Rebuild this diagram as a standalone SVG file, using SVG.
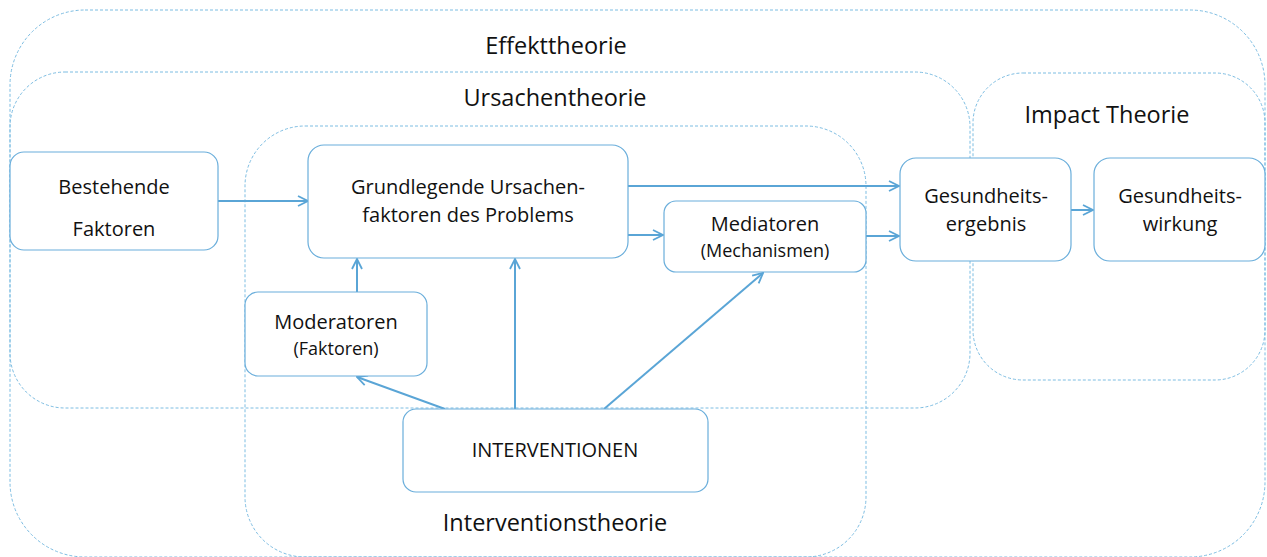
<svg xmlns="http://www.w3.org/2000/svg" width="1267" height="557" viewBox="0 0 1267 557">
<style>
.zone{fill:none;stroke:#7dbde2;stroke-width:1;stroke-dasharray:3 2}
.node{fill:#fff;stroke:#6aaedb;stroke-width:1.2}
.t{font-family:"Open Sans","Noto Sans",sans-serif;fill:#111;text-anchor:middle}
.big{font-size:23.5px}
.n{font-size:20px}
.s{font-size:18px}
.c{stroke:#5aa5d6;stroke-width:2;fill:none;marker-end:url(#ah)}
</style>
<defs>
<marker id="ah" viewBox="0 0 12 12" refX="11" refY="6" markerWidth="12" markerHeight="12" markerUnits="userSpaceOnUse" orient="auto">
<path d="M1,1 L11,6 L1,11" fill="none" stroke="#5aa5d6" stroke-width="1.8"/>
</marker>
</defs>
<rect width="1267" height="557" fill="#fff"/>
<g id="zones">
<rect id="effekt" class="zone" x="10" y="10" width="1255" height="547" rx="75" ry="75"/>
<rect id="ursachen" class="zone" x="10" y="72" width="960" height="336" rx="55" ry="55"/>
<rect id="impact" class="zone" x="973" y="73" width="292" height="307" rx="50" ry="50"/>
<rect id="intervention" class="zone" x="245" y="126" width="621" height="431" rx="60" ry="60"/>
<text class="t big" x="556" y="54">Effekttheorie</text>
<text class="t big" x="555" y="106">Ursachentheorie</text>
<text class="t big" x="1107" y="123">Impact Theorie</text>
<text class="t big" x="555" y="531">Interventionstheorie</text>
</g>
<g id="connectors">
<line class="c" x1="218" y1="201" x2="308" y2="201"/>
<line class="c" x1="628" y1="186" x2="899" y2="186"/>
<line class="c" x1="628" y1="235" x2="663" y2="235"/>
<line class="c" x1="866" y1="236" x2="899" y2="236"/>
<line class="c" x1="1071" y1="210" x2="1093" y2="210"/>
<line class="c" x1="357" y1="292" x2="357" y2="259"/>
<line class="c" x1="515" y1="409" x2="515" y2="259"/>
<line class="c" x1="604" y1="409" x2="763" y2="273"/>
<line class="c" x1="445" y1="409" x2="357" y2="377"/>
</g>
<g id="bestehende">
<rect class="node" x="10" y="152" width="208" height="98" rx="14"/>
<text class="t n" x="114" y="194">Bestehende</text>
<text class="t n" x="114" y="236">Faktoren</text>
</g>
<g id="grundlegende">
<rect class="node" x="308" y="145" width="320" height="113" rx="16"/>
<text class="t n" x="468" y="194">Grundlegende Ursachen-</text>
<text class="t n" x="468" y="222">faktoren des Problems</text>
</g>
<g id="mediatoren">
<rect class="node" x="664" y="201" width="202" height="71" rx="12"/>
<text class="t n" x="765" y="231">Mediatoren</text>
<text class="t s" x="765" y="257">(Mechanismen)</text>
</g>
<g id="ergebnis">
<rect class="node" x="900" y="158" width="171" height="103" rx="16"/>
<text class="t n" x="986" y="203">Gesundheits-</text>
<text class="t n" x="986" y="231">ergebnis</text>
</g>
<g id="wirkung">
<rect class="node" x="1094" y="158" width="171" height="103" rx="16"/>
<text class="t n" x="1180" y="203">Gesundheits-</text>
<text class="t n" x="1180" y="231">wirkung</text>
</g>
<g id="moderatoren">
<rect class="node" x="245" y="292" width="182" height="84" rx="13"/>
<text class="t n" x="336" y="329">Moderatoren</text>
<text class="t s" x="336" y="355">(Faktoren)</text>
</g>
<g id="interventionen">
<rect class="node" x="403" y="409" width="305" height="83" rx="13"/>
<text class="t n" x="555" y="457">INTERVENTIONEN</text>
</g>
</svg>
